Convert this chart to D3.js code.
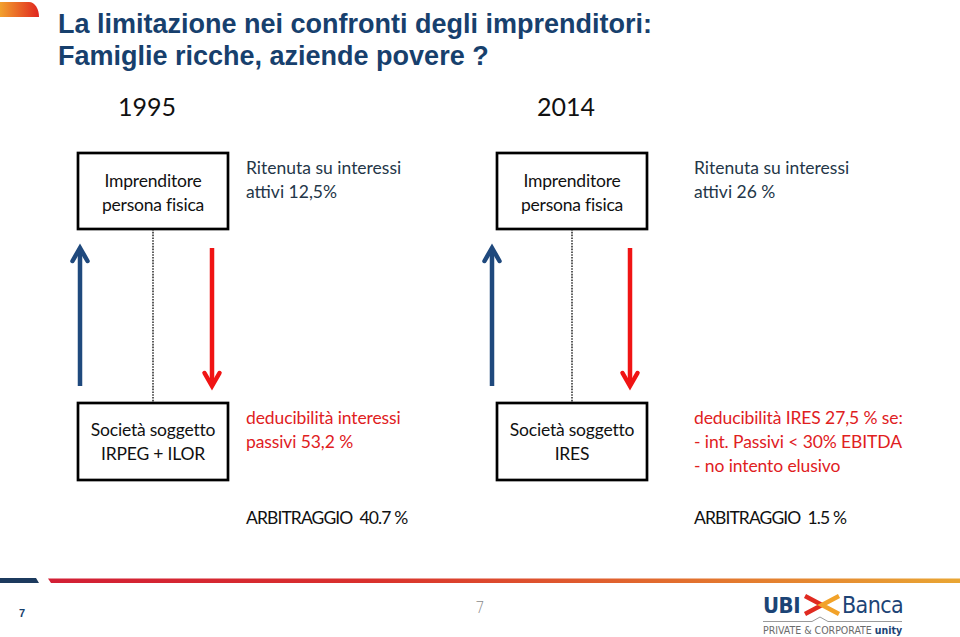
<!DOCTYPE html>
<html><head><meta charset="utf-8">
<script src="https://cdn.jsdelivr.net/npm/d3@7"></script>
<style>body{margin:0;background:#fff;} svg{display:block}</style>
</head><body>
<svg id="c" width="960" height="637"></svg>
<script>
// ---------- data ----------
const titleLines = ["La limitazione nei confronti degli imprenditori:", "Famiglie ricche, aziende povere ?"];
const years = ["1995", "2014"];
const personBoxLines = [["Imprenditore", "persona fisica"], ["Imprenditore", "persona fisica"]];
const companyBoxLines = [["Società soggetto", "IRPEG + ILOR"], ["Società soggetto", "IRES"]];
const withholdingNotes = [["Ritenuta su interessi", "attivi 12,5%"], ["Ritenuta su interessi", "attivi 26 %"]];
const deductibilityNotes = [["deducibilità interessi", "passivi 53,2 %"],
  ["deducibilità IRES 27,5 % se:", "- int. Passivi < 30% EBITDA", "- no intento elusivo"]];
const arbitrageValues = [40.7, 1.5];
const pageNumber = "7";

// ---------- layout ----------
const svg = d3.select("#c");
const W = 960, H = 637;
const calibri = "Lato, 'Open Sans', sans-serif";
const navy = "#17406D";

const panelX = d3.scaleBand().domain(years).range([78, 916]);
const noteX = d3.scaleOrdinal().domain(years).range([246, 694]);
const blueX = d3.scaleOrdinal().domain(years).range([80, 492]);
const redX = d3.scaleOrdinal().domain(years).range([212, 630]);
const boxW = 150;
const personY = [153, 229], companyY = [403, 480];
const arrowY = d3.scaleLinear().domain([0, 1]).range([248, 386]);

const defs = svg.append("defs");
const g1 = defs.append("linearGradient").attr("id", "topGrad").attr("x1", "0").attr("x2", "1");
g1.append("stop").attr("offset", "0").attr("stop-color", "#F2A12E");
g1.append("stop").attr("offset", "1").attr("stop-color", "#E0261F");
const g2 = defs.append("linearGradient").attr("id", "barGrad").attr("x1", "0").attr("x2", "1");
[["0", "#D21F35"], ["0.35", "#D9302D"], ["0.7", "#E2702E"], ["1", "#E9A634"]].forEach(s =>
  g2.append("stop").attr("offset", s[0]).attr("stop-color", s[1]));

svg.append("rect").attr("width", W).attr("height", H).attr("fill", "#fff");

// top-left decoration
svg.append("path").attr("d", "M0,2 L29,2 C35,2 39,9 39,17 L0,17 Z").attr("fill", "url(#topGrad)");

// title
svg.append("g").selectAll("text").data(titleLines).join("text")
  .attr("x", 58).attr("y", (d, i) => 33 + i * 32)
  .attr("font-family", "'Liberation Sans', Arial, sans-serif").attr("font-weight", "bold")
  .attr("font-size", 27).attr("fill", navy).text(d => d);

// panels
const panels = svg.append("g").selectAll("g").data(years).join("g");

// year labels
panels.append("text")
  .attr("x", d => panelX(d) + 69).attr("y", 116)
  .attr("text-anchor", "middle").attr("font-family", calibri).attr("font-size", 25)
  .attr("fill", "#111").text(d => d);

// dotted connector
panels.append("line")
  .attr("x1", d => panelX(d) + 75).attr("x2", d => panelX(d) + 75)
  .attr("y1", personY[1]).attr("y2", companyY[0])
  .attr("stroke", "#4a4a4a").attr("stroke-width", 1.8).attr("stroke-dasharray", "1.6,1.2");

// boxes
function box(sel, ys, lines, baselines) {
  sel.append("rect")
    .attr("x", d => panelX(d)).attr("y", ys[0])
    .attr("width", boxW).attr("height", ys[1] - ys[0])
    .attr("fill", "#fff").attr("stroke", "#000").attr("stroke-width", 2.7);
  sel.each(function (d, i) {
    d3.select(this).append("g").selectAll("text").data(lines[i]).join("text")
      .attr("x", panelX(d) + boxW / 2).attr("y", (t, j) => baselines[j])
      .attr("text-anchor", "middle").attr("font-family", calibri).attr("font-size", 17.5)
      .attr("letter-spacing", -0.2)
      .attr("fill", "#111").text(t => t);
  });
}
box(panels, personY, personBoxLines, [187, 211]);
box(panels, companyY, companyBoxLines, [436, 460]);

// arrows
const line = d3.line();
panels.each(function (d) {
  const p = d3.select(this);
  const bx = blueX(d), rx = redX(d);
  p.append("path").attr("d", line([[bx, arrowY(1)], [bx, arrowY(0) + 2]]))
    .attr("stroke", "#1F497D").attr("stroke-width", 4.5).attr("fill", "none");
  p.append("path").attr("d", line([[bx - 7.5, arrowY(0) + 13], [bx, arrowY(0)], [bx + 7.5, arrowY(0) + 13]]))
    .attr("stroke", "#1F497D").attr("stroke-width", 4.5).attr("fill", "none")
    .attr("stroke-linecap", "round").attr("stroke-linejoin", "miter");
  p.append("path").attr("d", line([[rx, arrowY(0)], [rx, arrowY(1) - 2]]))
    .attr("stroke", "#F01414").attr("stroke-width", 4.5).attr("fill", "none");
  p.append("path").attr("d", line([[rx - 7.5, arrowY(1) - 13], [rx, arrowY(1)], [rx + 7.5, arrowY(1) - 13]]))
    .attr("stroke", "#F01414").attr("stroke-width", 4.5).attr("fill", "none")
    .attr("stroke-linecap", "round").attr("stroke-linejoin", "miter");
});

// notes
panels.each(function (d, i) {
  const p = d3.select(this);
  p.append("g").selectAll("text").data(withholdingNotes[i]).join("text")
    .attr("x", noteX(d)).attr("y", (t, j) => 174 + j * 23.5)
    .attr("font-family", calibri).attr("font-size", 17.5).attr("fill", "#243648").text(t => t);
  p.append("g").selectAll("text").data(deductibilityNotes[i]).join("text")
    .attr("x", noteX(d)).attr("y", (t, j) => 423.5 + j * 24.3)
    .attr("font-family", calibri).attr("font-size", 17.5).attr("letter-spacing", -0.1)
    .attr("fill", "#E0201E").text(t => t);
  p.append("text").attr("x", noteX(d)).attr("y", 523.5)
    .attr("font-family", calibri).attr("font-size", 17.5).attr("fill", "#111")
    .attr("letter-spacing", -0.9)
    .attr("xml:space", "preserve").style("white-space", "pre")
    .text("ARBITRAGGIO  " + String(arbitrageValues[i]) + " %");
});

// footer bars
svg.append("path").attr("d", "M0,578 L36,578 L39,583 L0,583 Z").attr("fill", "#1C3A5E");
svg.append("path").attr("d", "M48,578.5 L960,578.5 L960,583 L51,583 Z").attr("fill", "url(#barGrad)");

// page numbers
svg.append("text").attr("x", 22).attr("y", 617).attr("text-anchor", "middle")
  .attr("font-family", "'Liberation Sans', Arial, sans-serif").attr("font-weight", "bold")
  .attr("font-size", 11).attr("fill", navy).text(pageNumber);
svg.append("text").attr("x", 480).attr("y", 613).attr("text-anchor", "middle")
  .attr("font-family", "'DejaVu Sans', sans-serif").attr("font-weight", 200)
  .attr("font-size", 15).attr("fill", "#8a8a8a").text(pageNumber);

// logo
const logo = svg.append("g");
const cond = "'DejaVu Sans Condensed', 'Liberation Sans Narrow', 'DejaVu Sans', sans-serif";
logo.append("text").attr("x", 763).attr("y", 613).attr("font-family", cond)
  .attr("font-weight", "bold").attr("font-size", 22).attr("letter-spacing", -0.5)
  .attr("fill", "#1C4476").text("UBI");
logo.append("path").attr("d", "M805,596 L822,605 L805,614").attr("fill", "none")
  .attr("stroke", "#E02A20").attr("stroke-width", 4.5);
logo.append("path").attr("d", "M839,596 L822,605 L839,614").attr("fill", "none")
  .attr("stroke", "#F2A229").attr("stroke-width", 4.5);
logo.append("text").attr("x", 842).attr("y", 613).attr("font-family", cond)
  .attr("font-size", 23).attr("letter-spacing", -0.6).attr("fill", "#1C4476").text("Banca");
logo.append("path").attr("d", "M763,621.5 L812,621.5 L820,617 L828,621.5 L902,621.5")
  .attr("fill", "none").attr("stroke", "#9a9a9a").attr("stroke-width", 1);
const tagline = logo.append("text").attr("x", 763).attr("y", 634).attr("font-family", cond)
  .attr("font-size", 10.5);
tagline.append("tspan").attr("fill", "#6b6b6b").text("PRIVATE & CORPORATE ");
tagline.append("tspan").attr("fill", "#1C4476").attr("font-weight", "bold").text("unity");
</script>
</body></html>
